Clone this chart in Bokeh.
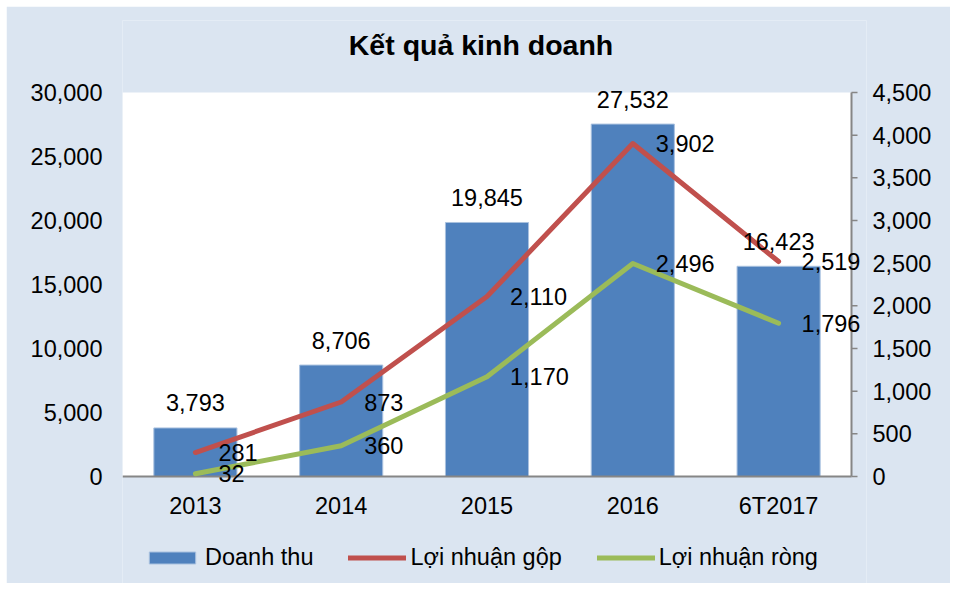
from bokeh.plotting import figure
from bokeh.models import (ColumnDataSource, Range1d, LinearAxis,
                          NumeralTickFormatter, FixedTicker, LabelSet, Label,
                          Legend, LegendItem)
from bokeh.core.properties import value
from bokeh.embed import file_html
from bokeh.resources import INLINE

categories = ["2013", "2014", "2015", "2016", "6T2017"]
doanh_thu = [3793, 8706, 19845, 27532, 16423]
loi_nhuan_gop = [281, 873, 2110, 3902, 2519]
loi_nhuan_rong = [32, 360, 1170, 2496, 1796]
left_ticks = [0, 5000, 10000, 15000, 20000, 25000, 30000]
right_ticks = [0, 500, 1000, 1500, 2000, 2500, 3000, 3500, 4000, 4500]
title_text = "Kết quả kinh doanh"
series_names = ["Doanh thu", "Lợi nhuận gộp", "Lợi nhuận ròng"]

FONT = "Liberation Sans"
FS = "23.5px"
BLUE, RED, GREEN = "#4f81bd", "#c0504d", "#9bbb59"
PANEL = "#dbe5f1"
AXIS_GRAY = "#868686"

# layout (pixels, page coordinates)
OFF = 6                                              # white edge of the page
FIG_R, FIG_B = 950, 583
PLOT_L, PLOT_R, PLOT_T, PLOT_B = 122, 851, 92, 476   # white plot area
FRAME_R, FRAME_T, FRAME_B = 866, 20, FIG_B           # extended frame

n = len(categories)
LEFT_MAX, RIGHT_MAX = left_ticks[-1], right_ticks[-1]
px_x = (PLOT_R - PLOT_L) / n
px_y = (PLOT_B - PLOT_T) / LEFT_MAX
px_yr = (PLOT_B - PLOT_T) / RIGHT_MAX
x_end = n + (FRAME_R - PLOT_R) / px_x
y_start, y_end = -(FRAME_B - PLOT_B) / px_y, (PLOT_B - FRAME_T) / px_y
yr_start, yr_end = -(FRAME_B - PLOT_B) / px_yr, (PLOT_B - FRAME_T) / px_yr

xs = [i + 0.5 for i in range(n)]

def fmt(v):
    return "{:,}".format(v)

src = ColumnDataSource(dict(
    x=xs, cat=categories, zero=[0] * n,
    dt=doanh_thu, gop=loi_nhuan_gop, rong=loi_nhuan_rong,
    dt_t=[fmt(v) for v in doanh_thu],
    gop_t=[fmt(v) for v in loi_nhuan_gop],
    rong_t=[fmt(v) for v in loi_nhuan_rong],
))

p = figure(x_range=Range1d(0, x_end), y_range=Range1d(y_start, y_end),
           width=FIG_R - OFF, height=FIG_B - OFF,
           output_backend="svg", toolbar_location=None,
           min_border_left=PLOT_L - OFF, min_border_right=FIG_R - FRAME_R,
           min_border_top=FRAME_T - OFF, min_border_bottom=0,
           background_fill_color=PANEL, border_fill_color=PANEL,
           outline_line_color=None)
p.margin = (OFF, 0, 0, OFF)
p.extra_y_ranges = {"right": Range1d(yr_start, yr_end)}
p.xgrid.visible = False
p.ygrid.visible = False
p.xaxis.visible = False

# white plot area
p.quad(left=0, right=n, bottom=0, top=LEFT_MAX, fill_color="white",
       line_color=None, level="underlay")

bars = p.vbar(x="x", top="dt", width=0.57, source=src, fill_color=BLUE,
              line_color="#a9c1df", line_width=1)

# axis lines (bottom and right) and right ticks
p.segment(x0=0, x1=n, y0=0, y1=0, line_color=AXIS_GRAY, line_width=2)
p.segment(x0=n, x1=n, y0=0, y1=LEFT_MAX, line_color=AXIS_GRAY, line_width=2)
p.segment(x0=[n] * len(right_ticks), x1=[n + 6 / px_x] * len(right_ticks),
          y0=right_ticks, y1=right_ticks, y_range_name="right",
          line_color=AXIS_GRAY, line_width=1.5)

l1 = p.line(x="x", y="gop", source=src, line_color=RED, line_width=5,
            line_cap="round", line_join="round", y_range_name="right")
l2 = p.line(x="x", y="rong", source=src, line_color=GREEN, line_width=5,
            line_cap="round", line_join="round", y_range_name="right")

# left axis
ya = p.yaxis[0]
ya.ticker = FixedTicker(ticks=left_ticks)
ya.formatter = NumeralTickFormatter(format="0,0")
ya.axis_line_color = None
ya.major_tick_line_color = None
ya.minor_tick_line_color = None
ya.major_tick_in = 0
ya.major_tick_out = 0
ya.minor_tick_in = 0
ya.minor_tick_out = 0
ya.major_label_standoff = 20
ya.major_label_text_font = FONT
ya.major_label_text_font_size = FS
ya.major_label_text_color = "black"

# right axis
ra = LinearAxis(y_range_name="right", ticker=FixedTicker(ticks=right_ticks),
                formatter=NumeralTickFormatter(format="0,0"))
ra.axis_line_color = None
ra.major_tick_line_color = None
ra.minor_tick_line_color = None
ra.major_tick_in = 0
ra.major_tick_out = 0
ra.minor_tick_in = 0
ra.minor_tick_out = 0
ra.major_label_standoff = 6
ra.major_label_text_font = FONT
ra.major_label_text_font_size = FS
ra.major_label_text_color = "black"
p.add_layout(ra, "right")

# category labels under the bottom axis line
p.add_layout(LabelSet(x="x", y="zero", text="cat", source=src,
                      text_align="center", text_baseline="middle", y_offset=-29,
                      text_font=value(FONT), text_font_size=value(FS),
                      text_color="black"))

# data labels
p.add_layout(LabelSet(x="x", y="dt", text="dt_t", source=src,
                      text_align="center", text_baseline="middle", y_offset=25,
                      text_font=value(FONT), text_font_size=value(FS),
                      text_color="black"))
p.add_layout(LabelSet(x="x", y="gop", text="gop_t", source=src,
                      y_range_name="right", text_align="left",
                      text_baseline="middle", x_offset=23,
                      text_font=value(FONT), text_font_size=value(FS),
                      text_color="black"))
p.add_layout(LabelSet(x="x", y="rong", text="rong_t", source=src,
                      y_range_name="right", text_align="left",
                      text_baseline="middle", x_offset=23,
                      text_font=value(FONT), text_font_size=value(FS),
                      text_color="black"))

# title
p.add_layout(Label(x=n / 2, y=(PLOT_B - 44) / px_y, x_offset=-6,
                   text=title_text, text_align="center", text_baseline="middle",
                   text_font=FONT, text_font_style="bold",
                   text_font_size="28.5px", text_color="black"))

legend = Legend(items=[LegendItem(label=series_names[0], renderers=[bars]),
                       LegendItem(label=series_names[1], renderers=[l1]),
                       LegendItem(label=series_names[2], renderers=[l2])],
                orientation="horizontal", location=(143 - PLOT_L, 12),
                glyph_width=58, glyph_height=15, label_standoff=4, spacing=35,
                padding=0, margin=0, border_line_color=None,
                background_fill_alpha=0, label_text_font=FONT,
                label_text_font_size=FS, label_text_color="black")
p.add_layout(legend)

open("out.html", "w").write(file_html(p, INLINE))
